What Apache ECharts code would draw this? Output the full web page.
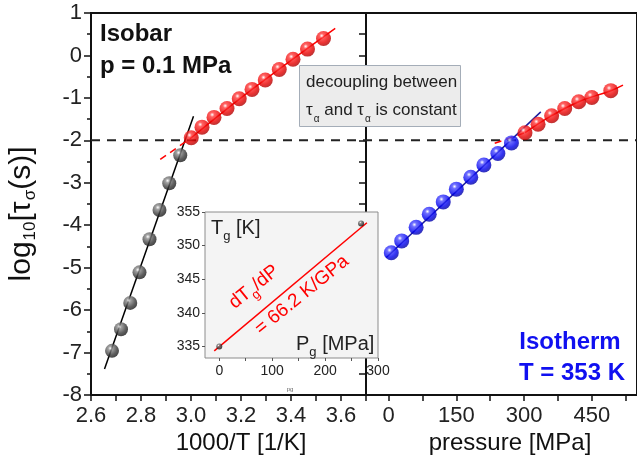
<!DOCTYPE html>
<html>
<head>
<meta charset="utf-8">
<script src="https://cdn.jsdelivr.net/npm/echarts@6/dist/echarts.min.js"></script>
<style>
  html, body { margin: 0; padding: 0; background: #fff; }
  #container { width: 637px; height: 466px; }
</style>
</head>
<body>
<div id="container"></div>
<script>
// isobar p = 0.1 MPa, below Tg (black) and above Tg (red)
const isoFastX = [2.684, 2.720, 2.757, 2.794, 2.834, 2.874, 2.913, 2.957];
const isoFastY = [-6.96, -6.45, -5.83, -5.11, -4.33, -3.64, -3.01, -2.35];
const isoSlowX = [3.001, 3.044, 3.092, 3.144, 3.193, 3.244, 3.297, 3.353, 3.408, 3.466, 3.530];
const isoSlowY = [-1.94, -1.69, -1.46, -1.25, -1.02, -0.80, -0.58, -0.33, -0.09, 0.15, 0.40];

// isotherm T = 353 K
const thermLowP = [6, 29, 61, 90, 121, 150, 182, 211, 242, 272];
const thermLowY = [-4.65, -4.37, -4.05, -3.74, -3.45, -3.15, -2.87, -2.58, -2.31, -2.06];
const thermHighP = [302, 331, 361, 390, 421, 450, 492];
const thermHighY = [-1.82, -1.62, -1.42, -1.25, -1.09, -0.99, -0.83];

// fit lines (end points)
const blackFitX = [2.654, 3.010];
const blackFitY = [-7.39, -1.43];
const redLeftFitX = [3.001, 3.244, 3.577];
const redLeftFitY = [-1.94, -0.80, 0.64];
const redLeftDashX = [2.877, 3.001];
const redLeftDashY = [-2.45, -1.94];
const blueFitP = [-5, 337];
const blueFitY = [-4.76, -1.33];
const redRightFitP = [302, 361, 421, 492, 519];
const redRightFitY = [-1.82, -1.42, -1.09, -0.83, -0.70];
const redRightDashP = [235, 302];
const redRightDashY = [-2.07, -1.82];
const tauRef = -2;

// inset Tg(Pg)
const pgVals = [0, 268];
const tgVals = [335, 353.3];
const tgFitP = [-9.5, 279];
const tgFitT = [334.35, 353.4];

// tick labels
const yTicks = [-8, -7, -6, -5, -4, -3, -2, -1, 0, 1];
const pLabels = [0, 150, 300, 450];
const pTicks = [0, 75, 150, 225, 300, 375, 450, 525];
const insetTLabels = [335, 340, 345, 350, 355];
const insetPLabels = [0, 100, 200, 300];
const insetPTicks = [0, 50, 100, 150, 200, 250, 300];

const FONT = '"Liberation Sans", Arial, sans-serif';

const dom = document.getElementById('container');
const myChart = echarts.init(dom);

function ball(c0, c1, c2) {
  return new echarts.graphic.RadialGradient(0.38, 0.32, 0.68, [
    { offset: 0, color: '#ffffff' },
    { offset: 0.22, color: c0 },
    { offset: 0.7, color: c1 },
    { offset: 1, color: c2 }
  ]);
}
const zip = (a, b) => a.map((v, i) => [v, b[i]]);

const tickStyle = { color: '#111', width: 1.5 };
const labelStyle = { fontFamily: FONT, fontSize: 22, color: '#222' };

const option = {
  animation: false,
  backgroundColor: '#fff',
  grid: [
    { left: 91, top: 13, width: 275, height: 382, show: true, borderColor: '#111', borderWidth: 2, backgroundColor: 'transparent' },
    { left: 366, top: 13, width: 273, height: 382, show: true, borderColor: '#111', borderWidth: 2, backgroundColor: 'transparent' },
    { left: 205, top: 212, width: 173, height: 146, show: true, borderColor: '#8c8c8c', borderWidth: 1, backgroundColor: '#f4f4f4', z: 10 }
  ],
  xAxis: [
    {
      type: 'value', gridIndex: 0, min: 2.6, max: 3.7, interval: 0.1,
      axisLine: { show: true, onZero: false, lineStyle: { color: '#111', width: 2 } },
      axisTick: { show: true, length: 6, lineStyle: tickStyle },
      axisLabel: Object.assign({
        margin: 10,
        formatter: v => (Math.round(v * 10) % 2 === 0 && v < 3.65 ? v.toFixed(1) : '')
      }, labelStyle),
      splitLine: { show: false }
    },
    {
      type: 'value', gridIndex: 1, min: -50, max: 550,
      axisLine: { show: true, onZero: false, lineStyle: { color: '#111', width: 2 } },
      axisTick: { show: true, length: 6, lineStyle: tickStyle, customValues: pTicks },
      axisLabel: Object.assign({ margin: 10, customValues: pLabels }, labelStyle),
      splitLine: { show: false }
    },
    {
      type: 'value', gridIndex: 2, min: -27, max: 300, z: 11,
      axisLine: { show: false, onZero: false },
      axisTick: { show: true, length: 3, lineStyle: { color: '#555', width: 1 }, customValues: insetPTicks },
      axisLabel: { margin: 6, customValues: insetPLabels, fontFamily: FONT, fontSize: 14, color: '#222' },
      splitLine: { show: false }
    }
  ],
  yAxis: [
    {
      type: 'value', gridIndex: 0, min: -8, max: 1, interval: 1,
      axisLine: { show: true, onZero: false, lineStyle: { color: '#111', width: 2 } },
      axisTick: { show: true, length: 7, lineStyle: tickStyle },
      minorTick: { show: true, splitNumber: 2, length: 4, lineStyle: tickStyle },
      axisLabel: Object.assign({ margin: 9, customValues: yTicks }, labelStyle),
      splitLine: { show: false }
    },
    {
      type: 'value', gridIndex: 1, min: -8, max: 1, interval: 0.5,
      axisLine: { show: true, onZero: false, lineStyle: { color: '#111', width: 2 } },
      axisTick: { show: true, length: 7, lineStyle: tickStyle },
      axisLabel: { show: false },
      splitLine: { show: false }
    },
    {
      type: 'value', gridIndex: 2, min: 333.3, max: 355, z: 11,
      axisLine: { show: false, onZero: false },
      axisTick: { show: true, length: 3, lineStyle: { color: '#555', width: 1 }, customValues: insetTLabels },
      axisLabel: { margin: 5, customValues: insetTLabels, fontFamily: FONT, fontSize: 14, color: '#222' },
      splitLine: { show: false }
    }
  ],
  series: [
    // reference level
    {
      type: 'line', xAxisIndex: 0, yAxisIndex: 0, symbol: 'none', silent: true,
      lineStyle: { color: '#222', width: 2, type: [9, 7] },
      data: [[2.6, tauRef], [3.7, tauRef]]
    },
    {
      type: 'line', xAxisIndex: 1, yAxisIndex: 1, symbol: 'none', silent: true,
      lineStyle: { color: '#222', width: 2, type: [9, 7], dashOffset: 3 },
      data: [[-50, tauRef], [550, tauRef]]
    },
    // fits, left
    {
      type: 'line', xAxisIndex: 0, yAxisIndex: 0, symbol: 'none',
      lineStyle: { color: '#000', width: 1.5 }, data: zip(blackFitX, blackFitY)
    },
    {
      type: 'line', xAxisIndex: 0, yAxisIndex: 0, symbol: 'none', smooth: 0.4,
      lineStyle: { color: '#f00', width: 1.5 }, data: zip(redLeftFitX, redLeftFitY)
    },
    {
      type: 'line', xAxisIndex: 0, yAxisIndex: 0, symbol: 'none',
      lineStyle: { color: '#f00', width: 1.5, type: [7, 5] }, data: zip(redLeftDashX, redLeftDashY)
    },
    // fits, right
    {
      type: 'line', xAxisIndex: 1, yAxisIndex: 1, symbol: 'none',
      lineStyle: { color: '#1a1a9c', width: 1.5 }, data: zip(blueFitP, blueFitY)
    },
    {
      type: 'line', xAxisIndex: 1, yAxisIndex: 1, symbol: 'none', smooth: 0.4,
      lineStyle: { color: '#f00', width: 1.5 }, data: zip(redRightFitP, redRightFitY)
    },
    {
      type: 'line', xAxisIndex: 1, yAxisIndex: 1, symbol: 'none',
      lineStyle: { color: '#f00', width: 1.5, type: [7, 5] }, data: zip(redRightDashP, redRightDashY)
    },
    // data points
    {
      type: 'scatter', xAxisIndex: 0, yAxisIndex: 0, symbolSize: 14, z: 5,
      itemStyle: { color: ball('#8a8a8a', '#383838', '#1a1a1a') },
      data: zip(isoFastX, isoFastY)
    },
    {
      type: 'scatter', xAxisIndex: 0, yAxisIndex: 0, symbolSize: 15, z: 5,
      itemStyle: { color: ball('#ff3a3a', '#e80000', '#b00000') },
      data: zip(isoSlowX, isoSlowY)
    },
    {
      type: 'scatter', xAxisIndex: 1, yAxisIndex: 1, symbolSize: 15, z: 5,
      itemStyle: { color: ball('#4a4aff', '#0000ee', '#0000a8') },
      data: zip(thermLowP, thermLowY)
    },
    {
      type: 'scatter', xAxisIndex: 1, yAxisIndex: 1, symbolSize: 15, z: 5,
      itemStyle: { color: ball('#ff3a3a', '#e80000', '#b00000') },
      data: zip(thermHighP, thermHighY)
    },
    // inset
    {
      type: 'line', xAxisIndex: 2, yAxisIndex: 2, symbol: 'none', z: 12,
      lineStyle: { color: '#f00', width: 1.5 }, data: zip(tgFitP, tgFitT)
    },
    {
      type: 'scatter', xAxisIndex: 2, yAxisIndex: 2, symbolSize: 6, z: 13,
      itemStyle: { color: ball('#888', '#333', '#111') },
      data: zip(pgVals, tgVals)
    }
  ],
  graphic: [
    {
      type: 'text', left: 100, top: 22, z: 50,
      style: { text: 'Isobar', font: 'bold 24px ' + FONT, fill: '#111' }
    },
    {
      type: 'text', left: 100, top: 54, z: 50,
      style: { text: 'p = 0.1 MPa', font: 'bold 24px ' + FONT, fill: '#111' }
    },
    {
      type: 'text', x: 570, y: 342, z: 50,
      style: { text: 'Isotherm', font: 'bold 24px ' + FONT, fill: '#1010f0', align: 'center', verticalAlign: 'middle' }
    },
    {
      type: 'text', x: 572, y: 373, z: 50,
      style: { text: 'T = 353 K', font: 'bold 24px ' + FONT, fill: '#1010f0', align: 'center', verticalAlign: 'middle' }
    },
    {
      type: 'rect', z: 60,
      shape: { x: 299.5, y: 65.5, width: 161, height: 61 },
      style: { fill: '#ececec', stroke: '#a4adb8', lineWidth: 1 }
    },
    {
      type: 'text', x: 306, y: 82, z: 61,
      style: { text: 'decoupling between', font: '17px ' + FONT, fill: '#222', verticalAlign: 'middle' }
    },
    {
      type: 'text', x: 306, y: 110, z: 61,
      style: {
        text: '{n|τ}{s|α}{n| and τ}{s|α}{n| is constant}',
        verticalAlign: 'middle',
        rich: {
          n: { fontFamily: FONT, fontSize: 17, fill: '#222' },
          s: { fontFamily: FONT, fontSize: 10, fill: '#222', padding: [18, 0, 0, 1] }
        }
      }
    },
    {
      type: 'text', x: 22, y: 214, rotation: Math.PI / 2, z: 50,
      style: {
        text: '{n|log}{s|10}{n|[τ}{s|σ}{n|(s)]}',
        align: 'center', verticalAlign: 'middle',
        rich: {
          n: { fontFamily: FONT, fontSize: 30, fill: '#111' },
          s: { fontFamily: FONT, fontSize: 17, fill: '#111', padding: [16, 0, 0, 1] }
        }
      }
    },
    {
      type: 'text', x: 241, y: 443, z: 50,
      style: { text: '1000/T [1/K]', font: '24px ' + FONT, fill: '#111', align: 'center', verticalAlign: 'middle' }
    },
    {
      type: 'text', x: 510, y: 443, z: 50,
      style: { text: 'pressure [MPa]', font: '24px ' + FONT, fill: '#111', align: 'center', verticalAlign: 'middle' }
    },
    {
      type: 'text', x: 211, y: 228, z: 70,
      style: {
        text: '{n|T}{s|g}{n| [K]}', verticalAlign: 'middle',
        rich: {
          n: { fontFamily: FONT, fontSize: 20, fill: '#222' },
          s: { fontFamily: FONT, fontSize: 13, fill: '#222', padding: [16, 0, 0, 0] }
        }
      }
    },
    {
      type: 'text', x: 296, y: 344, z: 70,
      style: {
        text: '{n|P}{s|g}{n| [MPa]}', verticalAlign: 'middle',
        rich: {
          n: { fontFamily: FONT, fontSize: 20, fill: '#222' },
          s: { fontFamily: FONT, fontSize: 13, fill: '#222', padding: [16, 0, 0, 0] }
        }
      }
    },
    {
      type: 'text', x: 254, y: 287, rotation: 39 * Math.PI / 180, z: 70,
      style: {
        text: '{n|dT}{s|g}{n|/dP}', align: 'center', verticalAlign: 'middle',
        rich: {
          n: { fontFamily: FONT, fontSize: 19, fill: '#f00' },
          s: { fontFamily: FONT, fontSize: 13, fill: '#f00', padding: [15, 0, 0, 0] }
        }
      }
    },
    {
      type: 'text', x: 302, y: 295, rotation: 39 * Math.PI / 180, z: 70,
      style: { text: '= 66.2 K/GPa', font: '19px ' + FONT, fill: '#f00', align: 'center', verticalAlign: 'middle' }
    },
    {
      type: 'text', x: 290, y: 389, z: 70,
      style: { text: 'pg', font: '6px ' + FONT, fill: '#666', align: 'center', verticalAlign: 'middle' }
    }
  ]
};

myChart.setOption(option);
</script>
</body>
</html>
